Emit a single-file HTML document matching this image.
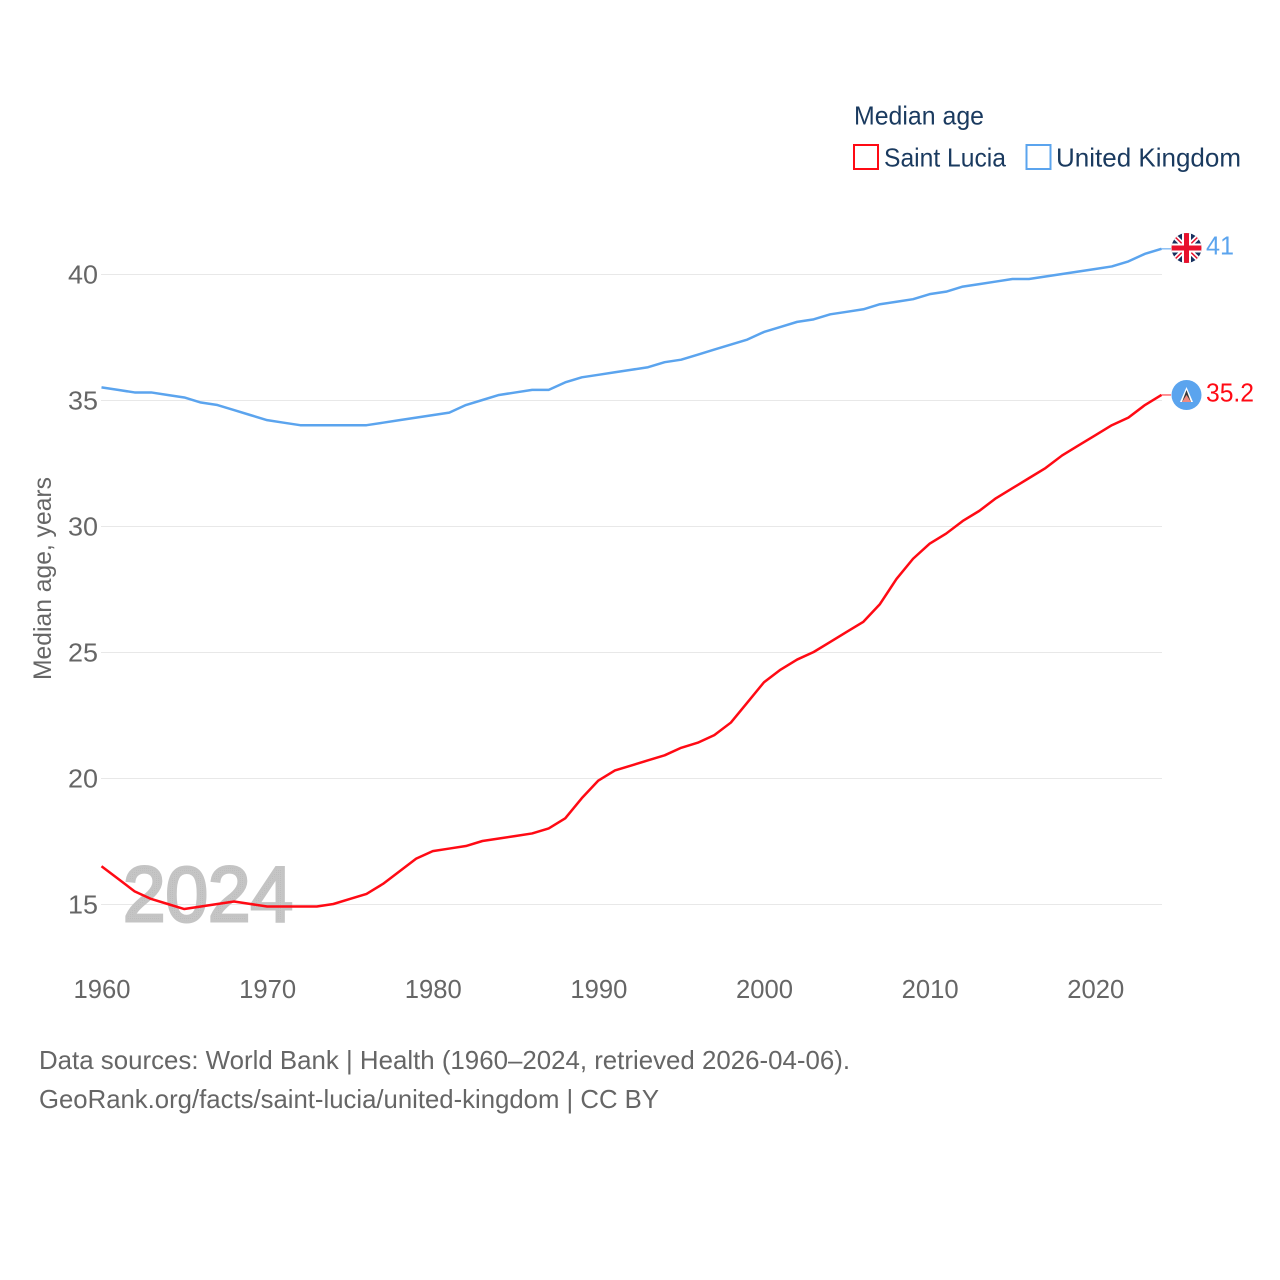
<!DOCTYPE html>
<html lang="en">
<head>
<meta charset="utf-8">
<title>Median age: Saint Lucia and United Kingdom</title>
<style>
html,body{margin:0;padding:0;background:#fff}
svg{display:block}
text{font-family:"Liberation Sans",sans-serif}
</style>
</head>
<body>
<svg id="chart" xmlns="http://www.w3.org/2000/svg" width="1280" height="1280" viewBox="0 0 1280 1280">
  <defs>
    <clipPath id="uk-clip"><circle cx="1186.5" cy="248" r="15"/></clipPath>
    <pattern id="year-dots" width="2" height="2" patternUnits="userSpaceOnUse">
      <rect width="2" height="2" fill="#c6c6c6"/>
      <rect width="1" height="1" fill="#bcbcbc"/>
    </pattern>
  </defs>
  <g id="grid"></g>
  <text x="123" y="921" font-size="78" fill="url(#year-dots)" stroke="#c4c4c4" stroke-width="3" textLength="170" lengthAdjust="spacingAndGlyphs">2024</text>
  <g id="y-ticks"></g>
  <g id="x-ticks"></g>
  <text transform="translate(51 680) rotate(-90)" font-size="25" fill="#666" textLength="203" lengthAdjust="spacingAndGlyphs">Median age, years</text>
  <g id="series"></g>

  <g>
    <text x="854" y="124.500" font-size="26" fill="#1a3a5f" textLength="130" lengthAdjust="spacingAndGlyphs">Median age</text>
    <rect x="854" y="145" width="24" height="24" fill="#fff" stroke="#ff0a14" stroke-width="2"/>
    <text x="884" y="166.500" font-size="26" fill="#1a3a5f" textLength="122" lengthAdjust="spacingAndGlyphs">Saint Lucia</text>
    <rect x="1026.500" y="145" width="24" height="24" fill="#fff" stroke="#5ba4ee" stroke-width="2"/>
    <text x="1056" y="166.500" font-size="26" fill="#1a3a5f" textLength="185" lengthAdjust="spacingAndGlyphs">United Kingdom</text>
  </g>

  <g clip-path="url(#uk-clip)">
    <rect x="1171" y="233" width="31" height="30" fill="#17305f"/>
    <path d="M1172 234L1201 262M1201 234L1172 262" stroke="#fff" stroke-width="5"/>
    <path d="M1172 234L1201 262M1201 234L1172 262" stroke="#e8112d" stroke-width="1.500"/>
    <path d="M1186.500 232V264M1170 248H1203" stroke="#fff" stroke-width="9"/>
    <path d="M1186.500 232V264M1170 248H1203" stroke="#e8112d" stroke-width="5"/>
  </g>
  <g>
    <circle cx="1186.500" cy="395" r="15" fill="#5ba4ee"/>
    <path d="M1186.500 387L1193 402H1180Z" fill="#fff"/>
    <path d="M1186.500 390L1191 402H1182Z" fill="#3a3a3a"/>
    <path d="M1186.500 395L1191 402H1182Z" fill="#f08a80"/>
  </g>
  <text x="1206" y="254.500" font-size="26" fill="#5ba4ee" textLength="28" lengthAdjust="spacingAndGlyphs">41</text>
  <text x="1206" y="401.500" font-size="26" fill="#ff0a14" textLength="48" lengthAdjust="spacingAndGlyphs">35.2</text>

  <text x="39" y="1069" font-size="26" fill="#666" textLength="811" lengthAdjust="spacingAndGlyphs">Data sources: World Bank | Health (1960–2024, retrieved 2026-04-06).</text>
  <text x="39" y="1108" font-size="26" fill="#666" textLength="620" lengthAdjust="spacingAndGlyphs">GeoRank.org/facts/saint-lucia/united-kingdom | CC BY</text>
</svg>
<script>
const years = [1960,1961,1962,1963,1964,1965,1966,1967,1968,1969,1970,1971,1972,1973,1974,1975,1976,1977,1978,1979,1980,1981,1982,1983,1984,1985,1986,1987,1988,1989,1990,1991,1992,1993,1994,1995,1996,1997,1998,1999,2000,2001,2002,2003,2004,2005,2006,2007,2008,2009,2010,2011,2012,2013,2014,2015,2016,2017,2018,2019,2020,2021,2022,2023,2024];
const saintLucia = [16.5,16.0,15.5,15.2,15.0,14.8,14.9,15.0,15.1,15.0,14.9,14.9,14.9,14.9,15.0,15.2,15.4,15.8,16.3,16.8,17.1,17.2,17.3,17.5,17.6,17.7,17.8,18.0,18.4,19.2,19.9,20.3,20.5,20.7,20.9,21.2,21.4,21.7,22.2,23.0,23.8,24.3,24.7,25.0,25.4,25.8,26.2,26.9,27.9,28.7,29.3,29.7,30.2,30.6,31.1,31.5,31.9,32.3,32.8,33.2,33.6,34.0,34.3,34.8,35.2];
const unitedKingdom = [35.5,35.4,35.3,35.3,35.2,35.1,34.9,34.8,34.6,34.4,34.2,34.1,34.0,34.0,34.0,34.0,34.0,34.1,34.2,34.3,34.4,34.5,34.8,35.0,35.2,35.3,35.4,35.4,35.7,35.9,36.0,36.1,36.2,36.3,36.5,36.6,36.8,37.0,37.2,37.4,37.7,37.9,38.1,38.2,38.4,38.5,38.6,38.8,38.9,39.0,39.2,39.3,39.5,39.6,39.7,39.8,39.8,39.9,40.0,40.1,40.2,40.3,40.5,40.8,41.0];
const yTickValues = [15,20,25,30,35,40];
const xTickValues = [1960,1970,1980,1990,2000,2010,2020];

const NS = 'http://www.w3.org/2000/svg';
const xScale = function (year) { return 101.5 + (year - 1960) * (1161.5 - 101.5) / 64; };
const yScale = function (value) { return 904 - (value - 15) * 25.2; };

function make(tag, parent, attrs, text) {
  const el = document.createElementNS(NS, tag);
  Object.keys(attrs).forEach(function (k) { el.setAttribute(k, attrs[k]); });
  if (text !== undefined) el.textContent = text;
  parent.appendChild(el);
  return el;
}

const gridGroup = document.getElementById('grid');
const yGroup = document.getElementById('y-ticks');
yTickValues.forEach(function (v) {
  const gy = yScale(v) + 0.5;
  const line = make('line', gridGroup, {x1: 101, x2: 1162, y1: gy, y2: gy, stroke: '#e8e8e8', 'stroke-width': 1});
  
  
  const label = make('text', yGroup, {x: 98, y: gy + 9, 'text-anchor': 'end', 'font-size': 26, fill: '#666', textLength: 30, lengthAdjust: 'spacingAndGlyphs'}, String(v));
  
  
});

const xGroup = document.getElementById('x-ticks');
xTickValues.forEach(function (v) {
  const label = make('text', xGroup, {x: xScale(v) - 28, y: 998, 'font-size': 26, fill: '#666', textLength: 57, lengthAdjust: 'spacingAndGlyphs'}, String(v));
  
  
});

function pointsFor(values) {
  return values.map(function (v, i) { return xScale(years[i]).toFixed(2) + ',' + yScale(v).toFixed(2); }).join(' ');
}

const seriesGroup = document.getElementById('series');

const ukLine = make('polyline', seriesGroup, {points: pointsFor(unitedKingdom), fill: 'none', stroke: '#5ba4ee', 'stroke-width': 2.5, 'stroke-linejoin': 'round'});



const slLine = make('polyline', seriesGroup, {points: pointsFor(saintLucia), fill: 'none', stroke: '#ff0a14', 'stroke-width': 2.5, 'stroke-linejoin': 'round'});



const ukLast = unitedKingdom[unitedKingdom.length - 1];
const ukLeader = make('line', seriesGroup, {x1: xScale(2024), x2: 1171, y1: yScale(ukLast), y2: yScale(ukLast), stroke: '#5ba4ee', 'stroke-width': 1.5, opacity: 0.7});



const slLast = saintLucia[saintLucia.length - 1];
const slLeader = make('line', seriesGroup, {x1: xScale(2024), x2: 1171, y1: yScale(slLast), y2: yScale(slLast), stroke: '#ff0a14', 'stroke-width': 1.5, opacity: 0.6});


</script>
</body>
</html>
